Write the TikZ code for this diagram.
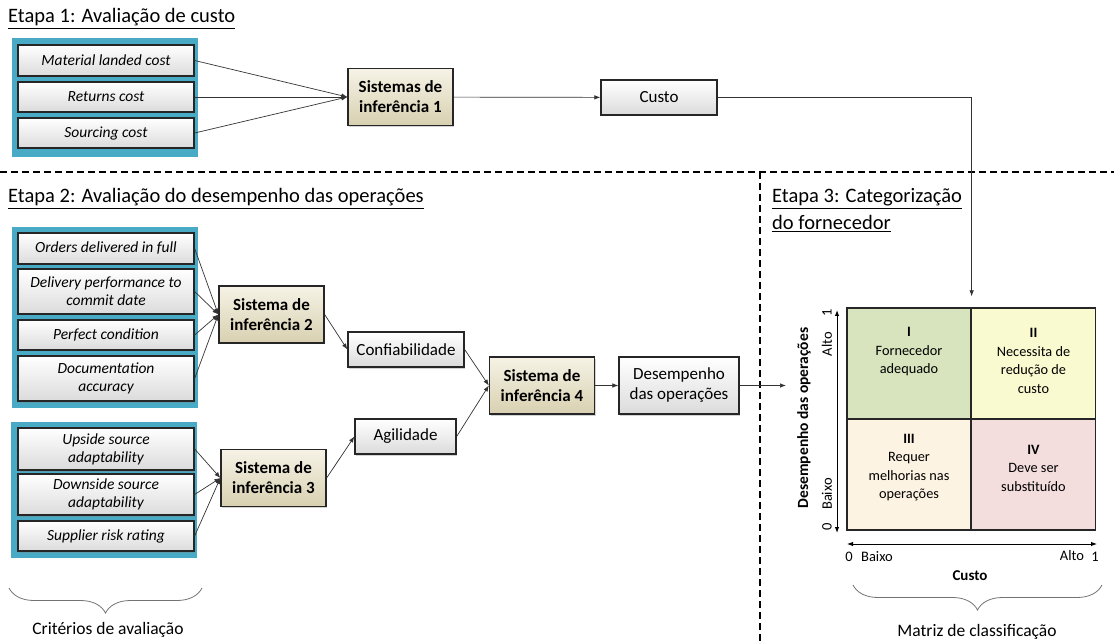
\documentclass[tikz,border=0pt]{standalone}
\usepackage{fontspec}
\setmainfont{Carlito}
\usetikzlibrary{arrows.meta, shadows, decorations.pathreplacing}

\definecolor{panelblue}{RGB}{72,170,197}
\definecolor{tanlight}{RGB}{246,243,230}
\definecolor{tandark}{RGB}{216,208,176}
\definecolor{qgreen}{RGB}{215,228,189}
\definecolor{qyellow}{RGB}{250,250,208}
\definecolor{qcream}{RGB}{253,243,226}
\definecolor{qpink}{RGB}{244,221,221}

\begin{document}
\begin{tikzpicture}[x=1pt, y=-1pt,
	>={Latex[length=6pt,width=4.5pt]},
	boxbase/.style={draw=black!85, line width=1.3pt, inner sep=1pt, align=center,
		drop shadow={shadow xshift=1pt, shadow yshift=-1.5pt, opacity=0.35}},
	crit/.style={boxbase, top color=white, bottom color=black!14, minimum width=176pt,
		font=\fontsize{15.5}{18}\selectfont\itshape},
	infer/.style={boxbase, top color=tanlight, bottom color=tandark, minimum width=105pt,
		minimum height=57pt, font=\fontsize{17}{20}\selectfont\bfseries},
	outbox/.style={boxbase, top color=white, bottom color=black!14, minimum height=35pt,
		font=\fontsize{17}{20}\selectfont},
	quad/.style={draw=black!85, line width=1.3pt, minimum width=124pt, minimum height=111pt},
	qtext/.style={align=center, font=\fontsize{14.3}{18.5}\selectfont},
	axlab/.style={font=\fontsize{14.5}{16}\selectfont, inner sep=0pt},
	link/.style={->, draw=black!80, line width=0.7pt},
	sep/.style={dash pattern=on 7pt off 4pt, line width=1.3pt},
	brc/.style={decorate, decoration={brace, amplitude=25pt}, draw=black!55, line width=0.8pt},
	title/.style={anchor=base west, inner sep=0pt, font=\fontsize{20.5}{24}\selectfont}
]
	\useasboundingbox (0,0) rectangle (1114,644);

	\draw[sep] (0,172) -- (1114,172);
	\draw[sep] (760,172) -- (760,644);

	\node[title] (e1) at (8,23) {\underline{Etapa 1: Avaliação de custo}};
	\node[title] (e2) at (8,203) {\underline{Etapa 2: Avaliação do desempenho das operações}};
	\node[title] (e3) at (772,203) {\underline{Etapa 3: Categorização}};
	\node[title] (e3b) at (772,230) {\underline{do fornecedor}};

	\fill[panelblue] (12,38) rectangle (198,157);
	\fill[panelblue] (12,227) rectangle (198,408);
	\fill[panelblue] (11,422) rectangle (197,558);

	\node[crit, minimum height=31pt] (mlc) at (106,60.5) {Material landed cost};
	\node[crit, minimum height=30pt] (rc) at (106,97) {Returns cost};
	\node[crit, minimum height=30pt] (sc) at (106,133) {Sourcing cost};

	\node[crit, minimum height=31pt] (odf) at (106,248.5) {Orders delivered in full};
	\node[crit, minimum height=45pt] (dpc) at (106,291.5) {Delivery performance to\\commit date};
	\node[crit, minimum height=30pt] (pc) at (106,335) {Perfect condition};
	\node[crit, minimum height=45pt] (da) at (106,378.5) {Documentation\\accuracy};

	\node[crit, minimum height=42pt] (usa) at (106,449) {Upside source\\adaptability};
	\node[crit, minimum height=41pt] (dsa) at (106,494.5) {Downside source\\adaptability};
	\node[crit, minimum height=30pt] (srr) at (106,536) {Supplier risk rating};

	\node[infer] (s1) at (400.5,97) {Sistemas de\\inferência 1};
	\node[infer] (s2) at (271.5,314.5) {Sistema de\\inferência 2};
	\node[infer] (s3) at (273.5,478) {Sistema de\\inferência 3};
	\node[infer] (s4) at (542,385.5) {Sistema de\\inferência 4};

	\node[outbox, minimum width=116pt] (custo) at (659,97.5) {Custo};
	\node[outbox, minimum width=116pt] (conf) at (406,349.5) {Confiabilidade};
	\node[outbox, minimum width=101pt] (agil) at (405.5,436.5) {Agilidade};
	\node[outbox, minimum width=120pt, minimum height=57pt] (desemp) at (679,385.5) {Desempenho\\das operações};

	\node[quad, fill=qgreen] (q1) at (909,363.5) {};
	\node[quad, fill=qyellow] (q2) at (1033.5,363.5) {};
	\node[quad, fill=qcream] (q3) at (909,474.5) {};
	\node[quad, fill=qpink] (q4) at (1033.5,474.5) {};

	\node[qtext] (t1) at (909,352) {\textbf{I}\\Fornecedor\\adequado};
	\node[qtext] (t2) at (1033.5,361) {\textbf{II}\\Necessita de\\redução de\\custo};
	\node[qtext] (t3) at (909,467.5) {\textbf{III}\\Requer\\melhorias nas\\operações};
	\node[qtext] (t4) at (1033.5,468) {\textbf{IV}\\Deve ser\\substituído};

	\coordinate (vt) at (837,310);
	\coordinate (vb) at (837,533);
	\coordinate (hl) at (847,544);
	\coordinate (hr) at (1097,544);
	\draw[<->, line width=1pt] (vb) -- (vt);
	\draw[<->, line width=1pt] (hl) -- (hr);

	\node[axlab, rotate=90] (y1) at (827,313) {1};
	\node[axlab, rotate=90] (yalto) at (827,344) {Alto};
	\node[axlab, rotate=90] (ybaixo) at (827,494) {Baixo};
	\node[axlab, rotate=90] (y0) at (827,527) {0};
	\node[axlab, rotate=90, font=\fontsize{15.5}{17}\selectfont\bfseries] (ytit) at (804,418) {Desempenho das operações};
	\node[axlab] (x0) at (849,557) {0};
	\node[axlab] (xbaixo) at (877,557) {Baixo};
	\node[axlab] (xalto) at (1072,556) {Alto};
	\node[axlab] (x1) at (1095,557) {1};
	\node[axlab, font=\fontsize{15}{17}\selectfont\bfseries] (xtit) at (970,576) {Custo};

	\coordinate (mx) at (786,385.5);

	\draw[link] (mlc.east) -- (s1.west);
	\draw[link] (rc.east) -- (s1.west);
	\draw[link] (sc.east) -- (s1.west);
	\draw[link] (s1) -- (custo);
	\draw[link] (custo.east) -| ([yshift=11pt]q1.north east);

	\draw[link] (odf.east) -- (s2.west);
	\draw[link] (dpc.east) -- (s2.west);
	\draw[link] (pc.east) -- (s2.west);
	\draw[link] (da.east) -- (s2.west);
	\draw[link] (usa.east) -- (s3.west);
	\draw[link] (dsa.east) -- (s3.west);
	\draw[link] (srr.east) -- (s3.west);

	\draw[link] (s2.east) -- (conf.west);
	\draw[link] (s3.east) -- (agil.west);
	\draw[link] (conf.east) -- (s4.west);
	\draw[link] (agil.east) -- (s4.west);
	\draw[link] (s4) -- (desemp);
	\draw[link] (desemp.east) -- (mx);

	\draw[brc] (202,588) -- (9,588);
	\draw[brc] (1102,585) -- (853,585);
	\node[font=\fontsize{17.5}{20}\selectfont] (crit) at (108,630) {Critérios de avaliação};
	\node[font=\fontsize{17.5}{20}\selectfont] (matriz) at (977,632) {Matriz de classificação};

\end{tikzpicture}
\end{document}
